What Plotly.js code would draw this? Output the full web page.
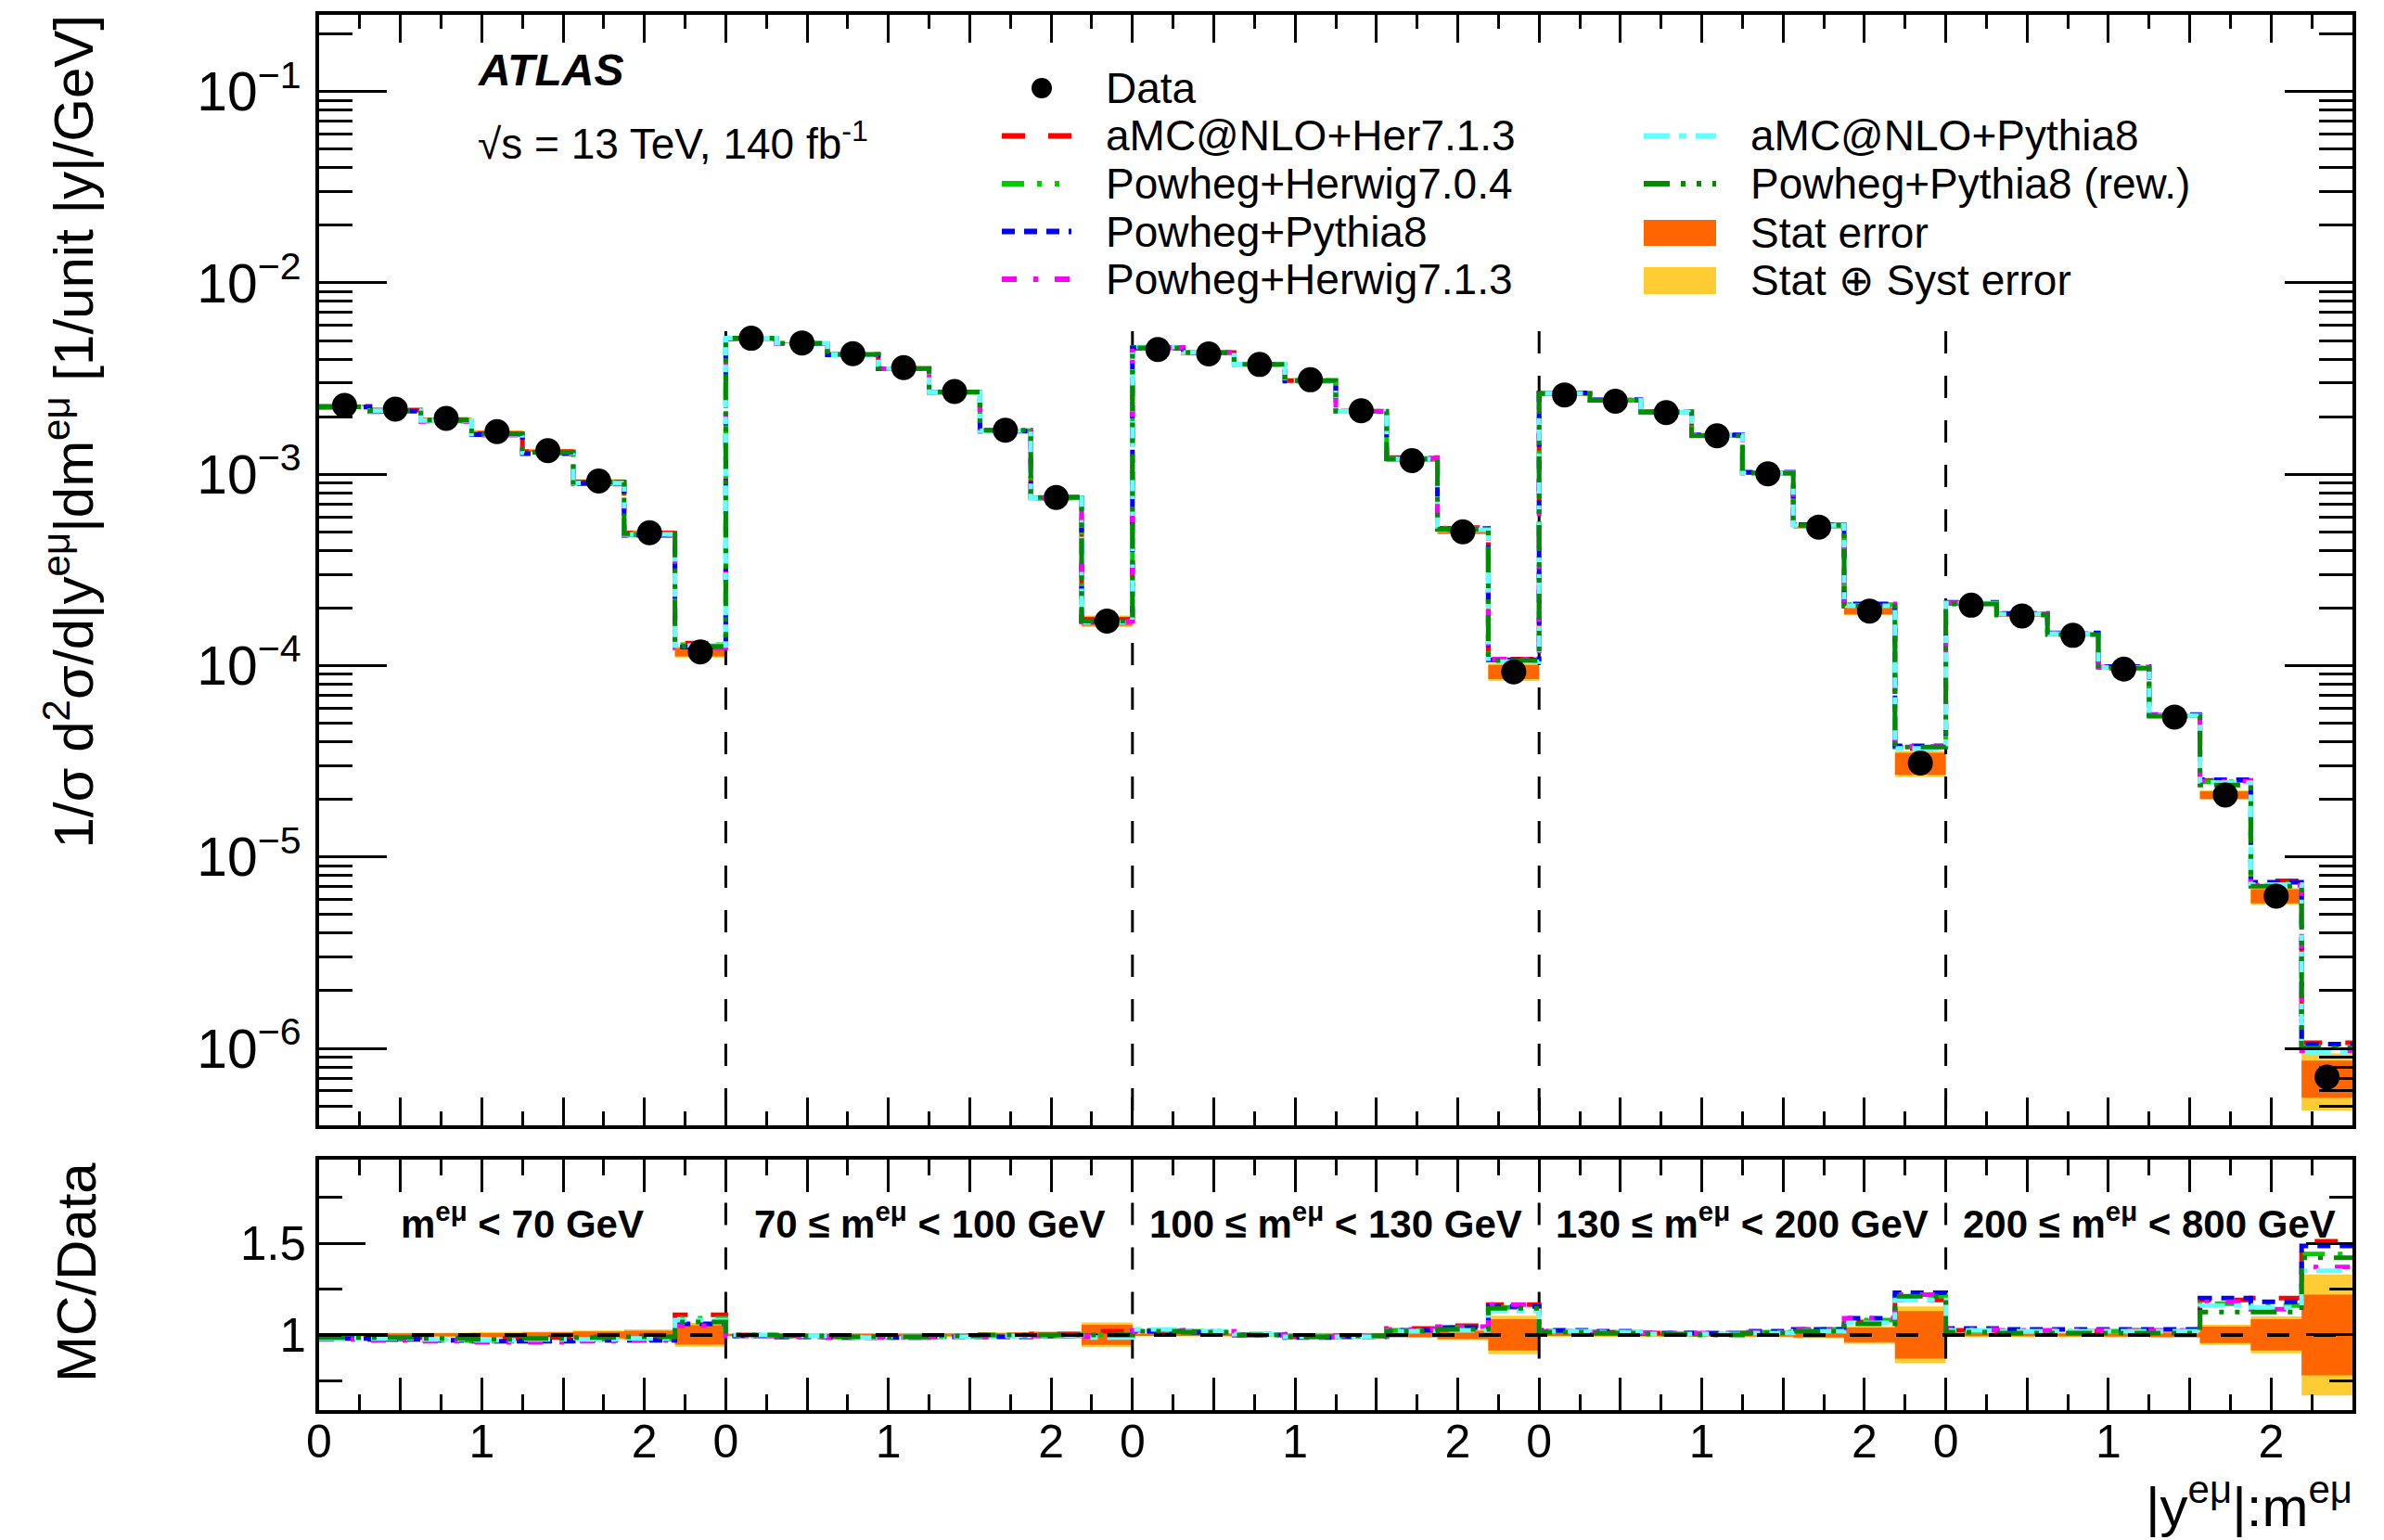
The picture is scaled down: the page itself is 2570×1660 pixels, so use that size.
<!DOCTYPE html>
<html><head><meta charset="utf-8">
<script src="https://cdn.plot.ly/plotly-3.0.1.min.js"></script>
<style>html,body{margin:0;padding:0;background:#fff;}#plot{width:2570px;height:1660px;}</style>
</head><body><div id="plot"></div>
<script>
// ---------- categories ----------
const yBinEdges = [0, 0.3125, 0.625, 0.9375, 1.25, 1.5625, 1.875, 2.1875, 2.5];
const massRegions = [
  "m<sup>eμ</sup> &lt; 70 GeV",
  "70 ≤ m<sup>eμ</sup> &lt; 100 GeV",
  "100 ≤ m<sup>eμ</sup> &lt; 130 GeV",
  "130 ≤ m<sup>eμ</sup> &lt; 200 GeV",
  "200 ≤ m<sup>eμ</sup> &lt; 800 GeV"
];
const yTickLabels = ["0", "1", "2"];
const yTickValues = [0, 1, 2];

// ---------- measured data (1/σ d²σ/d|y|dm) ----------
const dataValues = [
  2.29e-3, 2.19e-3, 1.96e-3, 1.67e-3, 1.33e-3, 9.22e-4, 4.95e-4, 1.18e-4,
  5.14e-3, 4.86e-3, 4.27e-3, 3.61e-3, 2.71e-3, 1.70e-3, 7.56e-4, 1.71e-4,
  4.49e-3, 4.26e-3, 3.75e-3, 3.12e-3, 2.15e-3, 1.18e-3, 5.01e-4, 9.29e-5,
  2.60e-3, 2.41e-3, 2.10e-3, 1.59e-3, 1.005e-3, 5.30e-4, 1.93e-4, 3.10e-5,
  2.07e-4, 1.82e-4, 1.44e-4, 9.6e-5, 5.39e-5, 2.11e-5, 6.25e-6, 7.08e-7
];
// relative uncertainties
const statErr = [
  0.007, 0.007, 0.008, 0.010, 0.013, 0.018, 0.022, 0.052,
  0.005, 0.005, 0.005, 0.006, 0.007, 0.010, 0.015, 0.055,
  0.005, 0.005, 0.005, 0.006, 0.008, 0.012, 0.022, 0.085,
  0.006, 0.006, 0.006, 0.007, 0.009, 0.014, 0.040, 0.130,
  0.007, 0.007, 0.008, 0.009, 0.012, 0.045, 0.085, 0.220
];
const totalErr = [
  0.010, 0.011, 0.012, 0.015, 0.018, 0.024, 0.030, 0.065,
  0.008, 0.008, 0.008, 0.009, 0.010, 0.013, 0.020, 0.068,
  0.008, 0.008, 0.008, 0.009, 0.011, 0.016, 0.028, 0.105,
  0.009, 0.009, 0.009, 0.010, 0.012, 0.018, 0.048, 0.155,
  0.010, 0.010, 0.011, 0.012, 0.016, 0.055, 0.100, 0.330
];

// ---------- MC / Data ratios ----------
const ratioAMCHer713 = [
  0.99, 0.99, 0.985, 0.98, 0.985, 0.99, 0.995, 1.11,
  1.0, 0.995, 0.99, 0.99, 0.995, 1.0, 1.005, 1.02,
  1.02, 1.015, 1.0, 0.99, 0.995, 1.035, 1.05, 1.165,
  1.02, 1.015, 1.01, 1.005, 1.01, 1.02, 1.07, 1.19,
  1.025, 1.02, 1.02, 1.025, 1.02, 1.19, 1.2, 1.51
];
const ratioPowHer704 = [
  0.985, 0.975, 0.97, 0.965, 0.97, 0.975, 0.975, 1.09,
  0.995, 0.99, 0.985, 0.985, 0.99, 0.995, 0.995, 1.0,
  1.025, 1.02, 1.005, 0.99, 0.995, 1.025, 1.04, 1.15,
  1.02, 1.015, 1.01, 1.005, 1.015, 1.03, 1.08, 1.21,
  1.02, 1.015, 1.02, 1.02, 1.015, 1.17, 1.16, 1.44
];
const ratioPowPy8 = [
  0.98, 0.975, 0.97, 0.965, 0.965, 0.97, 0.97, 1.06,
  0.995, 0.99, 0.985, 0.985, 0.99, 0.99, 0.995, 0.995,
  1.02, 1.015, 1.0, 0.985, 0.99, 1.025, 1.04, 1.155,
  1.025, 1.02, 1.01, 1.01, 1.02, 1.03, 1.09, 1.23,
  1.035, 1.03, 1.03, 1.03, 1.03, 1.2, 1.18, 1.485
];
const ratioPowHer713 = [
  0.975, 0.97, 0.965, 0.96, 0.96, 0.965, 0.97, 1.05,
  0.995, 0.99, 0.985, 0.985, 0.99, 0.99, 0.995, 0.995,
  1.025, 1.02, 1.0, 0.99, 0.995, 1.03, 1.045, 1.165,
  1.02, 1.015, 1.01, 1.01, 1.015, 1.03, 1.09, 1.22,
  1.03, 1.025, 1.025, 1.025, 1.025, 1.18, 1.14, 1.37
];
const ratioAMCPy8 = [
  0.98, 0.98, 0.975, 0.97, 0.975, 0.975, 0.98, 1.08,
  1.0, 0.995, 0.985, 0.99, 0.99, 0.995, 0.995, 0.985,
  1.03, 1.02, 1.005, 0.99, 0.99, 1.02, 1.025, 1.13,
  1.02, 1.015, 1.005, 1.005, 1.01, 1.02, 1.065, 1.19,
  1.025, 1.02, 1.02, 1.02, 1.02, 1.16, 1.15, 1.35
];
const ratioPowPy8Rew = [
  0.985, 0.985, 0.98, 0.975, 0.98, 0.985, 0.99, 1.07,
  1.0, 0.995, 0.99, 0.99, 0.995, 1.0, 1.0, 1.0,
  1.02, 1.015, 1.0, 0.99, 0.995, 1.02, 1.03, 1.145,
  1.015, 1.01, 1.005, 1.0, 1.01, 1.02, 1.06, 1.21,
  1.015, 1.01, 1.01, 1.01, 1.01, 1.125, 1.125, 1.42
];
const modelNames = ["aMC@NLO+Her7.1.3", "Powheg+Herwig7.0.4", "Powheg+Pythia8",
  "Powheg+Herwig7.1.3", "aMC@NLO+Pythia8", "Powheg+Pythia8 (rew.)"];

// ---------- styles ----------
const FONT = "Liberation Sans, Arial, Helvetica, sans-serif";
const models = [
  {name: modelNames[0], r: ratioAMCHer713, color: "#FF0000", dash: "25px,25px"},
  {name: modelNames[1], r: ratioPowHer704, color: "#00CC00", dash: "24px,14px,5px,14px,5px,14px"},
  {name: modelNames[2], r: ratioPowPy8, color: "#0000FF", dash: "14px,10px"},
  {name: modelNames[3], r: ratioPowHer713, color: "#FF00FF", dash: "16px,18px,5px,18px"},
  {name: modelNames[4], r: ratioAMCPy8, color: "#66FFFF", dash: "28px,10px,8px,10px"},
  {name: modelNames[5], r: ratioPowPy8Rew, color: "#008C00", dash: "28px,12px,5px,12px,5px,12px"}
];
const ORANGE = "#FF6600", YELLOW = "#FFCC33";

// ---------- global bin geometry (from categories) ----------
const regionWidth = yBinEdges[yBinEdges.length - 1];
const nReg = massRegions.length;
const edges = [];
for (let r = 0; r < nReg; r++) for (let k = 0; k < yBinEdges.length - 1; k++) edges.push(r * regionWidth + yBinEdges[k]);
edges.push(nReg * regionWidth);
const centers = [];
for (let i = 0; i < edges.length - 1; i++) centers.push((edges[i] + edges[i + 1]) / 2);
const xMax = nReg * regionWidth;

function stepTrace(vals, color, dash, xa, ya) {
  return {x: edges, y: vals.concat([vals[vals.length - 1]]), xaxis: xa, yaxis: ya,
    mode: "lines", line: {shape: "hv", color: color, width: 5, dash: dash},
    hoverinfo: "skip", showlegend: false};
}
function bandTrace(lo, hi, color, xa, ya) {
  const x = [], y = [];
  for (let i = 0; i < lo.length; i++) { x.push(edges[i], edges[i + 1]); y.push(hi[i], hi[i]); }
  for (let i = lo.length - 1; i >= 0; i--) { x.push(edges[i + 1], edges[i]); y.push(lo[i], lo[i]); }
  x.push(x[0]); y.push(y[0]);
  return {x: x, y: y, xaxis: xa, yaxis: ya, mode: "lines", fill: "toself", fillcolor: color,
    line: {width: 0, color: color}, hoverinfo: "skip", showlegend: false};
}

const traces = [];
// main panel bands
traces.push(bandTrace(dataValues.map((v, i) => v * (1 - totalErr[i])), dataValues.map((v, i) => v * (1 + totalErr[i])), YELLOW, "x", "y"));
traces.push(bandTrace(dataValues.map((v, i) => v * (1 - statErr[i])), dataValues.map((v, i) => v * (1 + statErr[i])), ORANGE, "x", "y"));
// region separators
const sepX = [], sepYmain = [], sepYratio = [];
for (let r = 1; r < nReg; r++) {
  sepX.push(r * regionWidth, r * regionWidth, null);
  sepYmain.push(5.6e-3, 1e-7, null);
  sepYratio.push(1.72, 0.85, null);
}
traces.push({x: sepX, y: sepYmain, xaxis: "x", yaxis: "y", mode: "lines",
  line: {color: "black", width: 3, dash: "24px,24px"}, hoverinfo: "skip", showlegend: false, connectgaps: false});
// MC (main)
models.forEach(m => traces.push(stepTrace(dataValues.map((v, i) => v * m.r[i]), m.color, m.dash, "x", "y")));
// data
traces.push({x: centers, y: dataValues, xaxis: "x", yaxis: "y", mode: "markers", name: "Data",
  marker: {color: "black", size: 27, symbol: "circle"}, showlegend: false});

// ratio panel
traces.push(bandTrace(totalErr.map(e => 1 - e), totalErr.map(e => 1 + e), YELLOW, "x2", "y2"));
traces.push(bandTrace(statErr.map(e => 1 - e), statErr.map(e => 1 + e), ORANGE, "x2", "y2"));
traces.push({x: [0, xMax], y: [1, 1], xaxis: "x3", yaxis: "y2", mode: "lines",
  line: {color: "black", width: 4, dash: "24px,26px"}, hoverinfo: "skip", showlegend: false});
traces.push({x: sepX, y: sepYratio, xaxis: "x2", yaxis: "y2", mode: "lines",
  line: {color: "black", width: 3, dash: "24px,24px"}, hoverinfo: "skip", showlegend: false, connectgaps: false});
models.forEach(m => traces.push(stepTrace(m.r, m.color, m.dash, "x2", "y2")));

// ---------- ticks ----------
const majX = [];
for (let v = 0; v <= xMax + 1e-9; v += 0.5) majX.push(v);
const labX = [], labXtext = [];
for (let r = 0; r < nReg; r++) yTickValues.forEach((t, j) => { labX.push(r * regionWidth + t); labXtext.push(yTickLabels[j]); });

// ---------- pixel helpers for overlay text ----------
const L = 344, R = 2536, T = 16, B = 1520;
const px = x => (x - L) / (R - L);
const py = y => (B - y) / (B - T);

const annotations = [];
const shapes = [];
function txt(text, x, y, size, opts) {
  annotations.push(Object.assign({text: text, x: px(x), y: py(y), xref: "paper", yref: "paper",
    showarrow: false, xanchor: "left", yanchor: "middle", font: {family: FONT, size: size, color: "black"}}, opts || {}));
}
txt("<b><i>ATLAS</i></b>", 513, 75, 48);
txt("√s = 13 TeV, 140 fb<sup>-1</sup>", 513, 152, 46);

// legend
const rowY = [95, 146.5, 198, 249.5, 301];
shapes.push({type: "circle", xref: "paper", yref: "paper", x0: px(1112), x1: px(1134), y0: py(106), y1: py(84),
  fillcolor: "black", line: {width: 0}});
txt("Data", 1190, rowY[0], 46);
const legendCols = [
  {x0: 1080, x1: 1155, tx: 1190, rows: [1, 2, 3, 4], models: [0, 1, 2, 3]},
  {x0: 1772, x1: 1850, tx: 1885, rows: [1, 2], models: [4, 5]}
];
legendCols.forEach(c => c.models.forEach((mi, j) => {
  const y = rowY[c.rows[j]];
  shapes.push({type: "line", xref: "paper", yref: "paper", x0: px(c.x0), x1: px(c.x1), y0: py(y), y1: py(y),
    line: {color: models[mi].color, width: 6, dash: models[mi].dash}});
  txt(models[mi].name, c.tx, y, 46);
}));
shapes.push({type: "rect", xref: "paper", yref: "paper", x0: px(1772), x1: px(1850), y0: py(265), y1: py(237),
  fillcolor: ORANGE, line: {width: 0}});
txt("Stat error", 1885, 251, 46);
shapes.push({type: "rect", xref: "paper", yref: "paper", x0: px(1772), x1: px(1850), y0: py(317), y1: py(288),
  fillcolor: YELLOW, line: {width: 0}});
txt("Stat ⊕ Syst error", 1885, 302, 46);

// axis titles
txt("1/σ d<sup>2</sup>σ/d|y<sup>eμ</sup>|dm<sup>eμ</sup> [1/unit |y|/GeV]", 74, 14, 60,
  {textangle: -90, xanchor: "center", yanchor: "top"});
txt("MC/Data", 82, 1372, 60, {textangle: -90, xanchor: "center", yanchor: "middle"});
txt("|y<sup>eμ</sup>|:m<sup>eμ</sup>", 2538, 1660, 60, {xanchor: "right", yanchor: "bottom"});

// mass region labels in ratio panel
massRegions.forEach((lab, r) => {
  annotations.push({text: "<b>" + lab + "</b>", x: r * regionWidth + regionWidth / 2, y: 1.62,
    xref: "x2", yref: "y2", showarrow: false, xanchor: "center", yanchor: "middle",
    font: {family: FONT, size: 42, color: "black"}});
});

const axCommon = {showline: true, linewidth: 4, linecolor: "black", mirror: "ticks", ticks: "inside",
  tickcolor: "black", tickwidth: 3, showgrid: false, zeroline: false};

const layout = {
  width: 2570, height: 1660, autosize: false,
  margin: {l: L, r: 2570 - R, t: T, b: 1660 - B, pad: 0},
  paper_bgcolor: "white", plot_bgcolor: "white",
  font: {family: FONT, color: "black"},
  showlegend: false,
  xaxis: Object.assign({}, axCommon, {domain: [0, 1], range: [0, xMax], anchor: "y",
    tickmode: "array", tickvals: majX, ticklen: 30, showticklabels: false,
    minor: {tick0: 0, dtick: 0.25, ticklen: 15, tickwidth: 3, tickcolor: "black", ticks: "inside"}}),
  yaxis: Object.assign({}, axCommon, {domain: [py(1213), 1], type: "log", range: [-6.402, -0.599], anchor: "x",
    dtick: 1, tick0: 0, exponentformat: "power", showexponent: "all", ticklen: 73,
    tickfont: {family: FONT, size: 47}, ticklabelstandoff: 6,
    minor: {dtick: "D1", ticklen: 36, tickwidth: 3, tickcolor: "black", ticks: "inside"}}),
  xaxis2: Object.assign({}, axCommon, {domain: [0, 1], range: [0, xMax], anchor: "y2",
    tickmode: "array", tickvals: majX, ticklen: 35, showticklabels: false,
    minor: {tick0: 0, dtick: 0.25, ticklen: 17, tickwidth: 3, tickcolor: "black", ticks: "inside"}}),
  xaxis3: {overlaying: "x2", anchor: "y2", side: "bottom", range: [0, xMax], showline: false,
    showgrid: false, zeroline: false, ticks: "", tickmode: "array", tickvals: labX, ticktext: labXtext,
    tickfont: {family: FONT, size: 50, color: "black"}, ticklabelstandoff: 0},
  yaxis2: Object.assign({}, axCommon, {domain: [0, py(1250)], range: [0.59, 1.955], anchor: "x2",
    dtick: 0.5, tick0: 0, ticklen: 50, tickfont: {family: FONT, size: 51}, ticklabelstandoff: 0,
    minor: {dtick: 0.25, tick0: 0, ticklen: 25, tickwidth: 3, tickcolor: "black", ticks: "inside"}}),
  annotations: annotations,
  shapes: shapes
};

Plotly.newPlot("plot", traces, layout, {staticPlot: true, displayModeBar: false});
</script></body></html>
